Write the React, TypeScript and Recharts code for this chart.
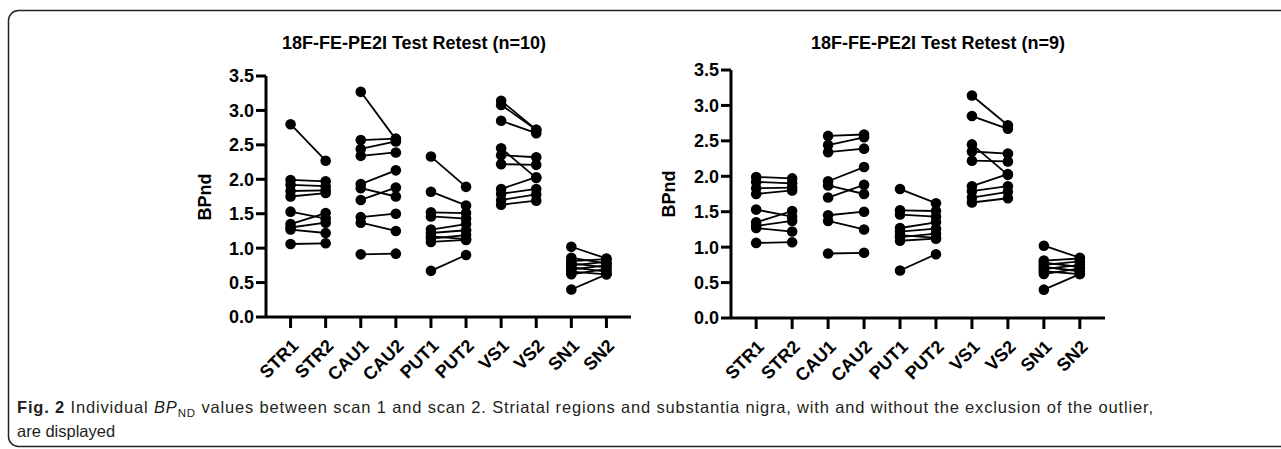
import React from 'react'
import {ScatterChart, Scatter, XAxis, YAxis} from 'recharts'

const regions = ['STR1', 'STR2', 'CAU1', 'CAU2', 'PUT1', 'PUT2', 'VS1', 'VS2', 'SN1', 'SN2']
const yTicks = [0, 0.5, 1, 1.5, 2, 2.5, 3, 3.5]
const xTicks = [0, 1, 2, 3, 4, 5, 6, 7, 8, 9]

// BPnd per subject, same subject order in every array. Subject 0 is the outlier
// that is left out of the n=9 panel.
const str1 = [2.8, 1.99, 1.92, 1.83, 1.75, 1.53, 1.35, 1.3, 1.27, 1.06]
const str2 = [2.27, 1.97, 1.9, 1.84, 1.8, 1.43, 1.51, 1.37, 1.22, 1.07]
const cau1 = [3.27, 2.57, 2.44, 2.34, 1.93, 1.87, 1.7, 1.45, 1.37, 0.91]
const cau2 = [2.58, 2.59, 2.55, 2.39, 2.13, 1.75, 1.88, 1.5, 1.25, 0.92]
const put1 = [2.33, 1.82, 1.52, 1.46, 1.27, 1.22, 1.17, 1.14, 1.09, 0.67]
const put2 = [1.89, 1.62, 1.51, 1.43, 1.35, 1.26, 1.13, 1.19, 1.12, 0.9]
const vs1 = [3.08, 3.14, 2.85, 2.45, 2.35, 2.22, 1.86, 1.79, 1.7, 1.63]
const vs2 = [2.72, 2.72, 2.67, 2.02, 2.32, 2.21, 2.03, 1.86, 1.78, 1.69]
const sn1 = [0.86, 1.02, 0.81, 0.78, 0.75, 0.72, 0.69, 0.66, 0.62, 0.4]
const sn2 = [0.78, 0.85, 0.84, 0.72, 0.8, 0.66, 0.75, 0.62, 0.7, 0.62]

const pairsAll: [number[], number[]][] = [
  [str1, str2],
  [cau1, cau2],
  [put1, put2],
  [vs1, vs2],
  [sn1, sn2],
]
const pairsNoOutlier: [number[], number[]][] = pairsAll.map(([a, b]) => [a.slice(1), b.slice(1)])

const FONT = '"Liberation Sans", Arial, sans-serif'
const axisStroke = {stroke: '#000', strokeWidth: 3}

function Dot(props: any) {
  return <circle cx={props.cx} cy={props.cy} r={5.3} fill="#000" />
}

function RegionTick({x, y, payload}: any) {
  return (
    <g transform={`translate(${x + 9},${y + 17}) rotate(-45)`}>
      <text textAnchor="end" fill="#000" fontSize={18} fontWeight={700} fontFamily={FONT}>
        {regions[payload.value]}
      </text>
    </g>
  )
}

function PairChart({
  pairs,
  width,
  height,
  margin,
}: {
  pairs: [number[], number[]][]
  width: number
  height: number
  margin: {top: number; right: number; bottom: number; left: number}
}) {
  const series: React.ReactNode[] = []
  pairs.forEach(([a, b], k) => {
    a.forEach((v, i) => {
      series.push(
        <Scatter
          key={`${k}-${i}`}
          data={[
            {x: 2 * k, y: v},
            {x: 2 * k + 1, y: b[i]},
          ]}
          fill="#000"
          line={{stroke: '#000', strokeWidth: 1.8}}
          shape={Dot}
          isAnimationActive={false}
        />,
      )
    })
  })

  return (
    <ScatterChart width={width} height={height} margin={margin}>
      <XAxis
        type="number"
        dataKey="x"
        domain={[-0.7, 9.7]}
        ticks={xTicks}
        interval={0}
        allowDataOverflow
        height={70}
        tickSize={11}
        tick={<RegionTick />}
        axisLine={axisStroke}
        tickLine={axisStroke}
      />
      <YAxis
        type="number"
        dataKey="y"
        domain={[0, 3.5]}
        ticks={yTicks}
        interval={0}
        width={60}
        tickSize={10}
        tickFormatter={(v: number) => v.toFixed(1)}
        tick={{fill: '#000', fontSize: 18, fontWeight: 700, fontFamily: FONT}}
        axisLine={axisStroke}
        tickLine={axisStroke}
      />
      {series}
    </ScatterChart>
  )
}

export default function App() {
  return (
    <div
      style={{
        position: 'absolute',
        left: 0,
        top: 0,
        width: 1281,
        height: 449,
        overflow: 'hidden',
        background: '#fff',
        fontFamily: FONT,
      }}
    >
      <div style={{position: 'absolute', left: 0, top: 0}}>
        <PairChart
          pairs={pairsAll}
          width={700}
          height={400}
          margin={{top: 76, right: 69, bottom: 13, left: 206}}
        />
      </div>
      <div style={{position: 'absolute', left: 560, top: 0}}>
        <PairChart
          pairs={pairsNoOutlier}
          width={600}
          height={400}
          margin={{top: 70, right: 55, bottom: 12, left: 111}}
        />
      </div>

      <svg
        width={1281}
        height={449}
        style={{position: 'absolute', left: 0, top: 0, pointerEvents: 'none'}}
      >
        <rect x={8.5} y={10.5} width={1300} height={436} rx={10} fill="none" stroke="#222" strokeWidth={1.5} />

        <text x={414} y={49} textAnchor="middle" fontSize={18} fontWeight={700} fill="#000" fontFamily={FONT}>
          18F-FE-PE2I Test Retest (n=10)
        </text>
        <text x={938} y={49} textAnchor="middle" fontSize={18} fontWeight={700} fill="#000" fontFamily={FONT}>
          18F-FE-PE2I Test Retest (n=9)
        </text>

        <text
          transform="translate(211,197) rotate(-90)"
          textAnchor="middle"
          fontSize={18}
          fontWeight={700}
          fill="#000"
          fontFamily={FONT}
        >
          BPnd
        </text>
        <text
          transform="translate(675,194) rotate(-90)"
          textAnchor="middle"
          fontSize={18}
          fontWeight={700}
          fill="#000"
          fontFamily={FONT}
        >
          BPnd
        </text>

        <text
          x={17}
          y={413}
          fontSize={16.5}
          fill="#231f20"
          fontFamily={FONT}
          textLength={1136}
          lengthAdjust="spacing"
        >
          <tspan fontWeight={700}>Fig. 2</tspan> Individual <tspan fontStyle="italic">BP</tspan>
          <tspan fontSize={11.5} dy={4}>ND</tspan>
          <tspan dy={-4}>
            {' '}values between scan 1 and scan 2. Striatal regions and substantia nigra, with and without the
            exclusion of the outlier,
          </tspan>
        </text>
        <text x={17} y={437} fontSize={16.5} fill="#231f20" fontFamily={FONT}>
          are displayed
        </text>
      </svg>
    </div>
  )
}
